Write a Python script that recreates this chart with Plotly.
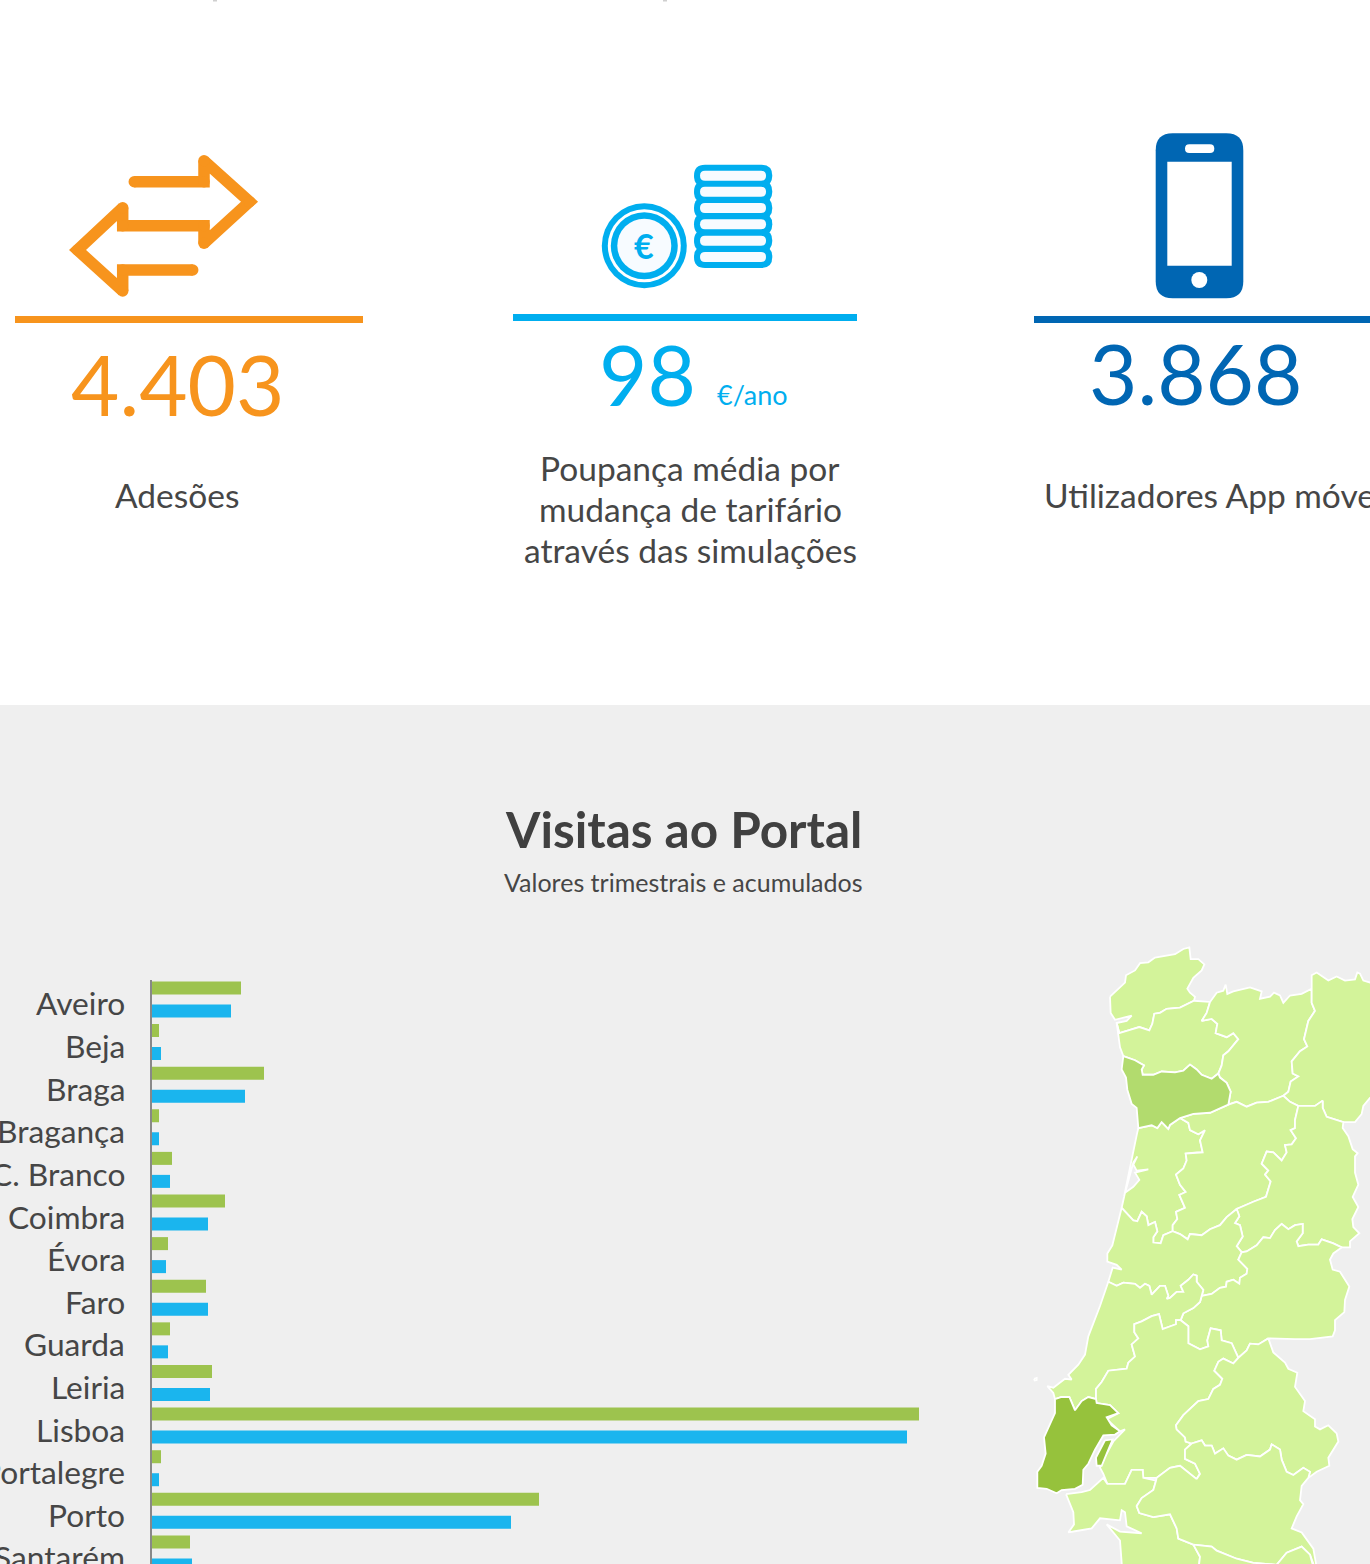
import plotly.graph_objects as go

FONT = "Lato"
W, H = 1370, 1564
TEXT = "#464646"
ORANGE, CYAN, NAVY = "#f7941d", "#00aeef", "#0066b3"
GREEN_BAR, BLUE_BAR = "#9dc34e", "#1ab5ee"
LAND, PORTO_FILL, LISBOA_FILL = "#d3f39a", "#b2db6e", "#96c23c"

districts = ["Aveiro", "Beja", "Braga", "Bragança", "C. Branco", "Coimbra", "Évora", "Faro",
             "Guarda", "Leiria", "Lisboa", "Portalegre", "Porto", "Santarém"]
acumulado = [89, 7, 112, 7, 20, 73, 16, 54, 18, 60, 767, 9, 387, 38]
trimestral = [79, 9, 93, 7, 18, 56, 14, 56, 16, 58, 755, 7, 359, 40]

VIANA = [(270,165),(315,130),(318,112),(345,100),(360,82),(385,80),(405,68),(465,60),(490,47),(508,43),(512,72),(535,72),(553,85),(545,100),(520,118),(502,145),(510,155),(525,165),(522,175),(480,192),(440,195),(420,205),(403,207),(397,232),(388,248),(358,240),(330,247),(298,255),(290,230),(320,225),(335,212),(285,222),(272,205)]
BRAGA = [(290,230),(298,255),(330,247),(358,240),(388,248),(397,232),(403,207),(420,205),(440,195),(480,192),(522,175),(570,178),(560,205),(545,225),(575,220),(592,232),(587,255),(620,265),(640,255),(655,270),(625,300),(610,310),(605,335),(595,355),(575,368),(545,358),(530,345),(510,333),(490,348),(465,352),(425,350),(400,358),(368,358),(365,345),(372,335),(345,322),(310,312),(300,290)]
VILA_REAL = [(570,178),(590,155),(610,150),(617,135),(622,158),(640,152),(690,142),(725,152),(720,170),(750,165),(762,155),(780,162),(790,180),(810,162),(845,158),(875,145),(875,180),(885,200),(865,225),(852,270),(862,288),(840,300),(815,325),(818,355),(835,362),(812,375),(805,400),(790,410),(745,425),(710,427),(680,437),(650,425),(625,432),(632,400),(620,378),(600,365),(595,355),(605,335),(610,310),(625,300),(655,270),(640,255),(620,265),(587,255),(592,232),(575,220),(545,225),(560,205)]
BRAGANCA = [(875,145),(875,112),(890,105),(925,125),(950,115),(975,125),(1005,122),(1012,105),(1020,108),(1030,125),(1050,130),(1100,130),(1100,410),(1050,415),(1030,435),(1025,455),(1005,475),(970,475),(920,462),(908,440),(908,422),(885,435),(835,435),(810,425),(790,410),(805,400),(812,375),(835,362),(818,355),(815,325),(840,300),(862,288),(852,270),(865,225),(885,200),(875,180)]
PORTO = [(310,312),(345,322),(372,335),(365,345),(368,358),(400,358),(425,350),(465,352),(490,348),(510,333),(530,345),(545,358),(575,368),(595,355),(600,365),(620,378),(632,400),(625,432),(570,452),(520,455),(480,465),(450,482),(445,492),(425,475),(412,490),(395,483),(355,490),(350,440),(335,430),(322,395),(318,365),(305,345)]
AVEIRO = [(355,490),(395,483),(412,490),(425,475),(445,492),(450,482),(480,465),(505,477),(510,495),(535,505),(555,495),(540,520),(548,550),(530,550),(497,553),(500,570),(490,590),(468,605),(480,630),(497,648),(478,655),(495,687),(468,697),(472,715),(458,730),(458,745),(430,755),(422,775),(400,773),(400,760),(412,745),(405,722),(385,730),(380,708),(365,697),(352,720),(340,718),(305,687),(315,650),(340,635),(358,618),(345,600),(385,592),(350,595),(340,580),(352,560),(340,575),(325,620),(312,660),(352,500)]
VISEU = [(480,465),(520,455),(570,452),(625,432),(650,425),(680,437),(710,427),(745,425),(790,410),(810,425),(835,435),(825,470),(825,490),(812,495),(828,515),(815,530),(795,532),(800,550),(785,570),(760,550),(740,548),(725,578),(745,595),(735,605),(752,622),(738,660),(700,672),(650,690),(620,710),(600,730),(570,740),(545,755),(510,752),(503,765),(480,752),(458,745),(458,730),(472,715),(468,697),(495,687),(478,655),(497,648),(480,630),(468,605),(490,590),(500,570),(497,553),(530,550),(548,550),(540,520),(555,495),(535,505),(510,495),(505,477)]
GUARDA = [(835,435),(885,435),(908,422),(908,440),(920,462),(970,475),(968,490),(985,510),(998,542),(1013,552),(1005,560),(1005,600),(1015,630),(998,660),(1015,685),(997,715),(1000,735),(1018,750),(990,770),(990,785),(965,785),(940,775),(905,765),(895,778),(865,778),(835,782),(830,770),(848,750),(848,727),(825,730),(805,740),(785,727),(765,742),(750,762),(730,760),(710,780),(680,795),(665,797),(650,782),(668,758),(660,730),(645,725),(658,708),(650,690),(700,672),(738,660),(752,622),(735,605),(745,595),(725,578),(740,548),(760,550),(785,570),(800,550),(795,532),(815,530),(828,515),(812,495),(825,490),(825,470)]
COIMBRA = [(305,687),(340,718),(352,720),(365,697),(380,708),(385,730),(405,722),(412,745),(400,760),(400,773),(422,775),(430,755),(458,745),(480,752),(503,765),(510,752),(545,755),(570,740),(600,730),(620,710),(650,690),(658,708),(645,725),(660,730),(668,758),(650,782),(665,797),(655,815),(682,838),(680,850),(660,860),(658,875),(640,865),(620,870),(618,882),(600,885),(575,900),(545,905),(550,890),(530,870),(530,855),(520,852),(505,865),(482,880),(490,895),(470,895),(450,910),(440,912),(445,905),(435,880),(420,880),(395,902),(388,880),(375,875),(360,885),(345,875),(310,872),(290,880),(265,870),(278,835),(305,840),(290,828),(262,820),(262,800),(277,780)]
CASTELO_BRANCO = [(545,905),(575,900),(600,885),(618,882),(620,870),(640,865),(658,875),(660,860),(680,850),(682,838),(655,815),(665,797),(680,795),(710,780),(730,760),(750,762),(765,742),(785,727),(805,740),(825,730),(848,727),(848,750),(830,770),(835,782),(865,778),(895,778),(905,765),(940,775),(965,785),(940,800),(930,815),(938,840),(960,845),(988,882),(975,915),(973,945),(945,965),(945,990),(938,1005),(870,1012),(825,1012),(745,1010),(715,1025),(690,1023),(680,1040),(655,1058),(635,1022),(605,1015),(602,990),(572,985),(562,1015),(565,1030),(540,1037),(505,1022),(505,980),(482,965),(490,948),(520,935),(540,920)]
LEIRIA = [(265,870),(290,880),(310,872),(345,875),(360,885),(375,875),(388,880),(395,902),(420,880),(435,880),(445,905),(440,912),(450,910),(470,895),(490,895),(482,880),(505,865),(520,852),(530,855),(530,870),(550,890),(545,905),(540,920),(520,935),(490,948),(482,965),(468,965),(468,975),(428,987),(417,950),(395,955),(365,968),(343,975),(343,995),(355,1010),(335,1025),(345,1055),(325,1070),(320,1085),(265,1090),(245,1118),(228,1135),(228,1160),(205,1155),(185,1165),(165,1188),(148,1155),(125,1155),(105,1160),(100,1145),(82,1128),(100,1132),(135,1110),(155,1112),(145,1100),(175,1075),(195,1050),(205,1005),(240,930)]
SANTAREM = [(228,1160),(228,1135),(245,1118),(265,1090),(320,1085),(325,1070),(345,1055),(335,1025),(355,1010),(343,995),(343,975),(365,968),(395,955),(417,950),(428,987),(468,975),(468,965),(482,965),(505,980),(505,1022),(540,1037),(565,1030),(562,1015),(572,985),(602,990),(605,1015),(635,1022),(655,1058),(640,1072),(610,1060),(595,1068),(583,1090),(607,1110),(600,1125),(580,1135),(565,1160),(535,1165),(490,1200),(468,1225),(470,1235),(495,1255),(497,1265),(515,1270),(495,1285),(495,1308),(525,1320),(540,1345),(530,1358),(480,1325),(450,1330),(410,1355),(370,1355),(368,1335),(335,1335),(315,1370),(290,1370),(262,1370),(250,1345),(240,1330),(250,1310),(280,1265),(315,1235),(300,1240),(260,1210),(295,1195),(270,1175),(230,1170)]
PORTALEGRE = [(745,1010),(760,1045),(795,1070),(805,1085),(832,1095),(825,1130),(855,1165),(850,1190),(885,1210),(885,1228),(900,1235),(925,1225),(950,1245),(955,1265),(925,1305),(928,1325),(890,1340),(865,1355),(870,1340),(850,1330),(820,1348),(800,1340),(785,1310),(780,1285),(755,1272),(750,1285),(720,1302),(680,1298),(650,1310),(625,1300),(610,1282),(585,1295),(575,1275),(555,1275),(545,1262),(515,1270),(497,1265),(495,1255),(470,1235),(468,1225),(490,1200),(535,1165),(565,1160),(580,1135),(600,1125),(607,1110),(583,1090),(595,1068),(610,1060),(640,1072),(655,1058),(680,1040),(690,1023),(715,1025)]
LISBOA = [(105,1160),(125,1155),(148,1155),(165,1188),(185,1165),(205,1155),(228,1160),(230,1170),(270,1175),(295,1195),(260,1205),(275,1225),(300,1240),(285,1248),(250,1250),(225,1285),(205,1320),(190,1335),(188,1372),(165,1382),(125,1385),(110,1393),(80,1382),(52,1380),(52,1340),(65,1325),(77,1295),(72,1255),(105,1195)]
LISBOA_B = [(255,1262),(278,1260),(265,1285),(245,1325),(230,1325),(228,1305)]
SETUBAL = [(138,1395),(185,1390),(210,1385),(250,1355),(262,1370),(290,1370),(315,1370),(335,1335),(368,1335),(370,1355),(408,1362),(400,1385),(365,1405),(350,1425),(358,1442),(400,1452),(450,1445),(470,1480),(475,1505),(520,1520),(540,1550),(530,1620),(310,1620),(300,1510),(260,1470),(300,1488),(365,1492),(320,1475),(315,1440),(305,1435),(300,1460),(240,1455),(215,1480),(165,1487),(145,1490),(162,1470),(160,1440)]
EVORA = [(530,1358),(480,1325),(450,1330),(410,1355),(408,1362),(400,1385),(365,1405),(350,1425),(358,1442),(400,1452),(450,1445),(470,1480),(475,1505),(520,1520),(575,1525),(590,1535),(650,1555),(700,1565),(770,1570),(800,1540),(845,1525),(870,1545),(895,1600),(880,1530),(845,1490),(815,1480),(830,1450),(850,1420),(840,1410),(845,1375),(865,1355),(870,1340),(850,1330),(820,1348),(800,1340),(785,1310),(780,1285),(755,1272),(750,1285),(720,1302),(680,1298),(650,1310),(625,1300),(610,1282),(585,1295),(575,1275),(555,1275),(545,1262),(515,1270),(495,1285),(495,1308),(525,1320),(540,1345)]
BEJA = [(520,1520),(575,1525),(590,1535),(650,1555),(700,1565),(770,1570),(800,1540),(845,1525),(870,1545),(895,1620),(530,1620),(540,1550)]
ILHEU = [(42,1110),(50,1108),(50,1113),(44,1114)]

plain = [VIANA, BRAGA, VILA_REAL, BRAGANCA, AVEIRO, VISEU, GUARDA, COIMBRA, CASTELO_BRANCO, LEIRIA,
         SANTAREM, PORTALEGRE, SETUBAL, EVORA, BEJA, ILHEU]

def mx(p):
    return 1020 + p[0] / 3
def my(p):
    return 930 + p[1] * 634 / 1568

ARROWS_X = [134.3, 204, 204, 249.5, 204, 204, 122.7, 122.7, 77.5, 122.7, 122.7, 192.7]
ARROWS_Y = [181.7, 181.7, 160.7, 201.7, 243.3, 225.7, 225.7, 207.7, 250, 291, 270, 270]
PILL_Y = [175.7, 191.7, 208, 224.3, 240.7, 257]

def rr(x0, y0, x1, y1, r):
    return (f"M{x0+r},{y0} L{x1-r},{y0} Q{x1},{y0} {x1},{y0+r} L{x1},{y1-r} Q{x1},{y1} {x1-r},{y1} "
            f"L{x0+r},{y1} Q{x0},{y1} {x0},{y1-r} L{x0},{y0+r} Q{x0},{y0} {x0+r},{y0} Z")

def pshape(x0, y0, x1, y1, r, color):
    return dict(type="path", xref="x2", yref="y2", path=rr(x0, y0, x1, y1, r), fillcolor=color, line_width=0, layer="above")

def rect(x0, y0, x1, y1, color, layer="above"):
    return dict(type="rect", xref="x2", yref="y2", x0=x0, y0=y0, x1=x1, y1=y1, fillcolor=color, line_width=0, layer=layer)

def circ(cx, cy, r, color):
    return dict(type="circle", xref="x2", yref="y2", x0=cx-r, x1=cx+r, y0=cy-r, y1=cy+r, fillcolor=color, line_width=0, layer="above")

fig = go.Figure()

# bars
pitch = 42.62
h = 13 / pitch
fig.add_bar(y=districts, x=acumulado, orientation="h", marker_color=GREEN_BAR, marker_line_width=0,
            width=h, offset=-18 / pitch, name="Acumulado")
fig.add_bar(y=districts, x=trimestral, orientation="h", marker_color=BLUE_BAR, marker_line_width=0,
            width=h, offset=5 / pitch, name="Trimestral")

# map
for poly in plain:
    fig.add_scatter(x=[mx(p) for p in poly] + [mx(poly[0])], y=[my(p) for p in poly] + [my(poly[0])],
                    mode="lines", fill="toself", fillcolor=LAND, line=dict(color="white", width=1.8),
                    xaxis="x2", yaxis="y2", hoverinfo="skip")
for poly, col in [(PORTO, PORTO_FILL), (LISBOA, LISBOA_FILL), (LISBOA_B, LISBOA_FILL)]:
    fig.add_scatter(x=[mx(p) for p in poly] + [mx(poly[0])], y=[my(p) for p in poly] + [my(poly[0])],
                    mode="lines", fill="toself", fillcolor=col, line=dict(color="white", width=1.8),
                    xaxis="x2", yaxis="y2", hoverinfo="skip")

# arrow icon
fig.add_scatter(x=ARROWS_X, y=ARROWS_Y, mode="lines+markers", line=dict(color=ORANGE, width=11.5),
                marker=dict(color=ORANGE, size=11.5), xaxis="x2", yaxis="y2", hoverinfo="skip")

shapes = [dict(type="rect", xref="paper", yref="paper", x0=0, x1=1, y0=0, y1=1 - 705 / H,
               fillcolor="#efefef", line_width=0, layer="below"),
          rect(15, 316, 363, 323, ORANGE), rect(513, 314, 857, 321, CYAN), rect(1034, 316, 1370, 323, NAVY),
          rect(213, 0, 217, 1.5, "#cfcfcf"), rect(663, 0, 667, 1.5, "#cfcfcf")]
for y in PILL_Y:
    shapes.append(pshape(694, y - 11, 772.3, y + 11, 11, CYAN))
for y in PILL_Y:
    shapes.append(pshape(700, y - 5, 766, y + 5, 5, "#f7fbff"))
shapes += [circ(644.3, 245.7, 42.5, CYAN), circ(644.3, 245.7, 36.5, "white"),
           circ(644.3, 245.7, 33.5, CYAN), circ(644.3, 245.7, 27, "#f7fbff")]
shapes += [pshape(1155.7, 133.3, 1243.3, 298.3, 17, NAVY), rect(1167.3, 161.7, 1231.7, 265.7, "white"),
           pshape(1185, 144.3, 1214.3, 153, 4.3, "white"), circ(1199.3, 280, 8, "white")]

def txt(x, y, s, size, color=TEXT, anchor="center", bold=False):
    s = f"<b>{s}</b>" if bold else s
    return dict(xref="paper", yref="paper", x=x / W, y=1 - y / H, text=s, showarrow=False, xanchor=anchor,
                yanchor="middle", font=dict(family=FONT, size=size, color=color))

ann = [txt(177, 384, "4.403", 83.5, ORANGE), txt(177, 495, "Adesões", 33.5),
       txt(647, 374, "98", 83.5, CYAN), txt(752, 394, "€/ano", 27, CYAN),
       txt(644.3, 246, "€", 34, CYAN, bold=True),
       txt(690, 468, "Poupança média por", 33.5), txt(690, 509, "mudança de tarifário", 33.5),
       txt(690, 550, "através das simulações", 33.5),
       txt(1195, 373, "3.868", 83.5, NAVY), txt(1042, 495, "Utilizadores App móvel", 33.5, anchor="left"),
       txt(683, 829, "Visitas ao Portal", 49.5, "#404040", bold=True),
       txt(683, 882, "Valores trimestrais e acumulados", 25)]
for d in districts:
    ann.append(dict(xref="paper", yref="y", x=126.5 / W, y=d, yshift=-4, text=d, showarrow=False, xanchor="right",
                    yanchor="middle", font=dict(family=FONT, size=31.7, color=TEXT)))

y_top, y_bot = (980 - 999.4) / pitch, (1564 - 999.4) / pitch
fig.update_layout(
    width=W, height=H, margin=dict(l=0, r=0, t=0, b=0, pad=0), showlegend=False, barmode="overlay",
    paper_bgcolor="white", plot_bgcolor="rgba(0,0,0,0)", shapes=shapes, annotations=ann,
    xaxis=dict(domain=[152 / W, 1], range=[0, W - 152], visible=False, fixedrange=True),
    yaxis=dict(domain=[0, (H - 980) / H], range=[y_bot, y_top], type="category", categoryorder="array",
               categoryarray=districts, showticklabels=False, ticks="", showgrid=False, zeroline=False,
               showline=True, linecolor="#888888", linewidth=2, fixedrange=True),
    xaxis2=dict(domain=[0, 1], range=[0, W], visible=False, anchor="y2", fixedrange=True),
    yaxis2=dict(domain=[0, 1], range=[H, 0], visible=False, anchor="x2", fixedrange=True),
)
fig.write_html("out.html", config={"displayModeBar": False},
               post_script="document.body.style.margin='0';document.body.style.overflow='hidden';")
